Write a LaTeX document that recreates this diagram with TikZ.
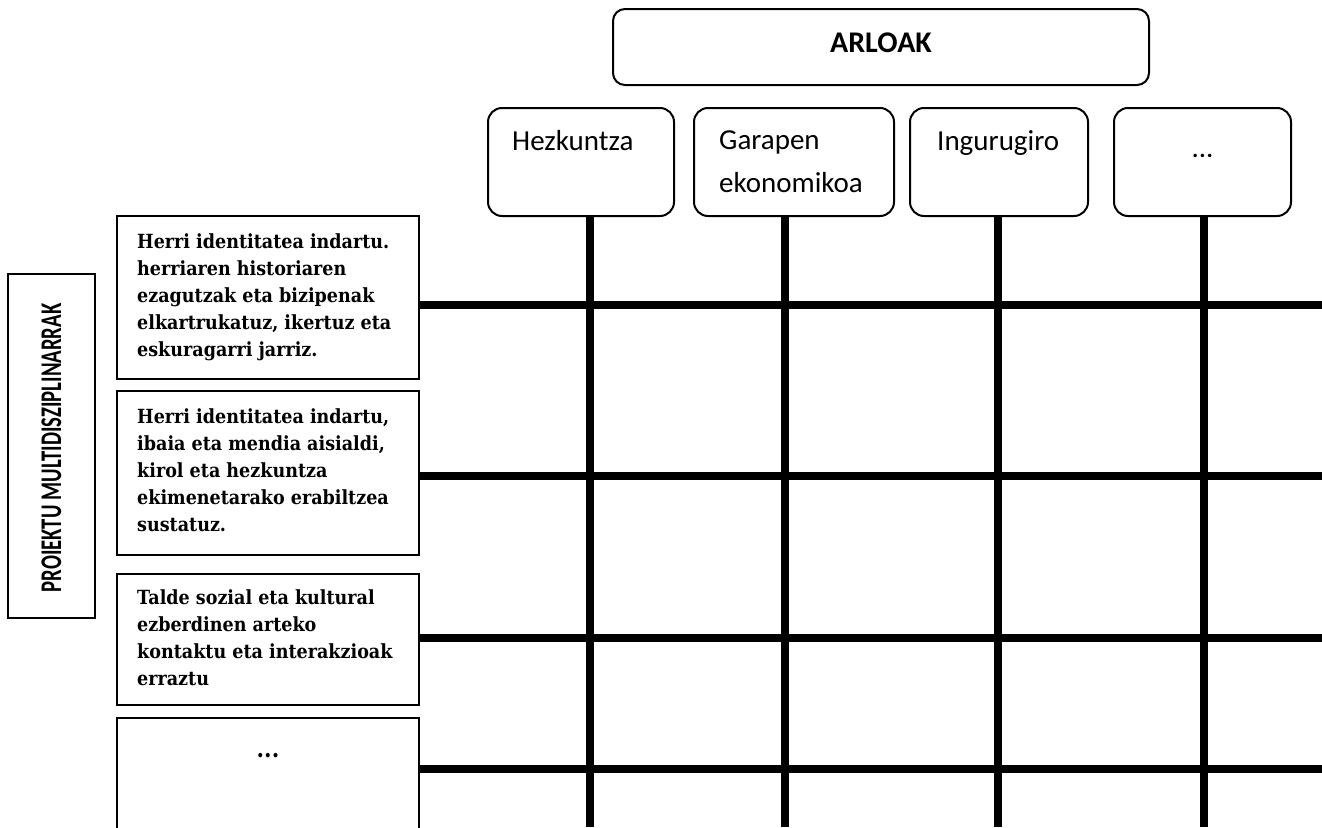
\documentclass[tikz,border=0pt]{standalone}
\usepackage{fontspec}
\setmainfont{Carlito}
\newfontfamily\rowfont{DejaVu Serif Condensed}
\usetikzlibrary{positioning}

\tikzset{
    areabox/.style = {draw, line width=2pt, rounded corners=14pt, inner sep=0pt,
                      minimum width=#1, minimum height=108pt, anchor=north west},
    rowbox/.style  = {draw, line width=2pt, inner sep=0pt, minimum width=302pt, anchor=north west},
    gridline/.style = {line width=8pt},
    areatext/.style = {inner sep=0pt, font=\fontsize{29}{43}\selectfont, align=left},
    rowtext/.style  = {inner sep=0pt, font=\rowfont\bfseries\fontsize{19.5}{27}\selectfont, align=left, anchor=base west}
}

\begin{document}
\begin{tikzpicture}[x=1pt,y=-1pt]

    % \draw [help lines, step=50] (0,0) grid (1322,827);
    \useasboundingbox (0,0) rectangle (1322,827);
    \clip (0,0) rectangle (1322,827);

    % arloak
    \path   (612,8)   node (arl) [draw, line width=2pt, rounded corners=12pt, inner sep=0pt,
                                  minimum width=536pt, minimum height=76pt, anchor=north west] {}
            (487,107) node (hez) [areabox=186pt] {}
            (693,107) node (gar) [areabox=200pt] {}
            (909,107) node (ing) [areabox=178pt] {}
            (1113,107) node (bes) [areabox=177pt] {};

    \node [areatext, font=\bfseries\fontsize{30}{36}\selectfont, anchor=base] at (arl.center |- 0,52) {ARLOAK};
    \node [areatext, anchor=base west] at (512,150) {Hezkuntza};
    \node [areatext, anchor=base west] at (719,192) {Garapen\\ekonomikoa};
    \node [areatext, anchor=base west] at (937,150) {Ingurugiro};
    \node [areatext, anchor=base] at (bes.center |- 0,157) {...};

    % proiektuak
    \path   (7,273)   node (pro) [draw, line width=2pt, inner sep=0pt, minimum width=87pt,
                                  minimum height=344pt, anchor=north west] {}
            (116,215) node (r1) [rowbox, minimum height=163pt] {}
            (116,390) node (r2) [rowbox, minimum height=164pt] {}
            (116,573) node (r3) [rowbox, minimum height=131pt] {}
            (116,717) node (r4) [rowbox, minimum height=130pt] {};

    \node [rotate=90, inner sep=0pt, font=\bfseries\fontsize{30}{36}\selectfont] at (pro.center |- 0,448)
    {\scalebox{0.69}[1]{PROIEKTU MULTIDISZIPLINARRAK}};

    % last line baseline
    \node [rowtext] at (137,356)
    {
    Herri identitatea indartu.\\
    herriaren historiaren\\
    ezagutzak eta bizipenak\\
    elkartrukatuz, ikertuz eta\\
    eskuragarri jarriz.
    };

    \node [rowtext] at (137,531)
    {
    Herri identitatea indartu,\\
    ibaia eta mendia aisialdi,\\
    kirol eta hezkuntza\\
    ekimenetarako erabiltzea\\
    sustatuz.
    };

    \node [rowtext] at (137,685)
    {
    Talde sozial eta kultural\\
    ezberdinen arteko\\
    kontaktu eta interakzioak\\
    erraztu
    };

    \node [rowtext, anchor=base, font=\rowfont\bfseries\fontsize{24}{27}\selectfont] at (r4.center |- 0,757) {...};

    % sareta
    \coordinate (v1) at (590,827);
    \coordinate (v2) at (785,827);
    \coordinate (v3) at (998,827);
    \coordinate (v4) at (1204,827);
    \coordinate (h1) at (1322,305);
    \coordinate (h2) at (1322,476);
    \coordinate (h3) at (1322,638);
    \coordinate (h4) at (1322,769);

    \draw [gridline] (v1 |- hez.south) -- (v1);
    \draw [gridline] (v2 |- gar.south) -- (v2);
    \draw [gridline] (v3 |- ing.south) -- (v3);
    \draw [gridline] (v4 |- bes.south) -- (v4);

    \draw [gridline] (r1.east |- h1) -- (h1);
    \draw [gridline] (r2.east |- h2) -- (h2);
    \draw [gridline] (r3.east |- h3) -- (h3);
    \draw [gridline] (r4.east |- h4) -- (h4);

\end{tikzpicture}
\end{document}
